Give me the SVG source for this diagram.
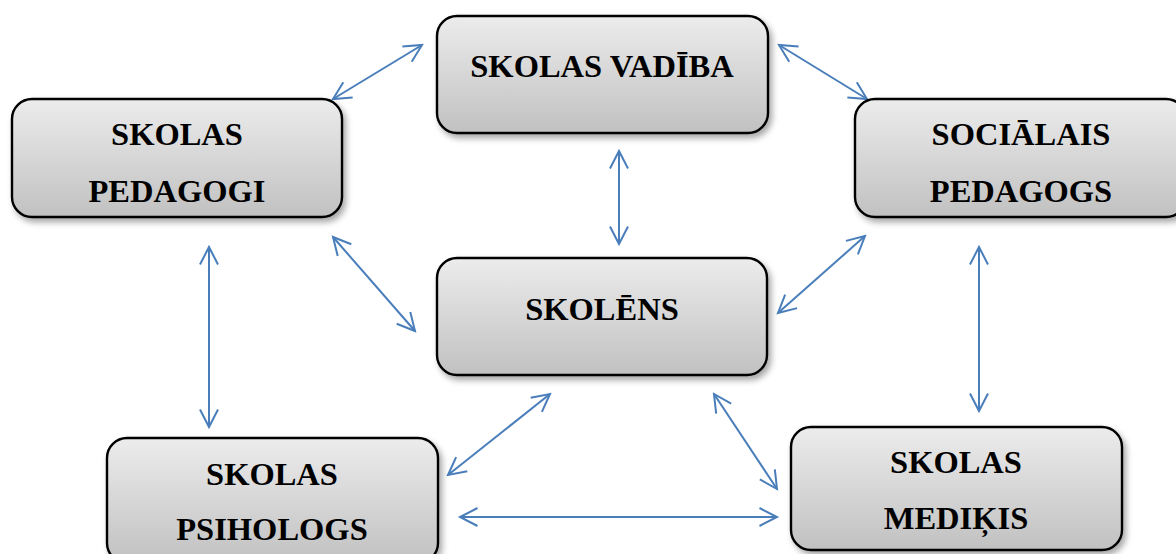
<svg xmlns="http://www.w3.org/2000/svg" width="1176" height="554" viewBox="0 0 1176 554">
<style>
.box{fill:url(#g);stroke:#000;stroke-width:2.4;filter:url(#sh);}
.t{font-family:"Liberation Serif","Times New Roman",serif;font-weight:bold;font-size:32.5px;fill:#000;text-anchor:middle;}
.c{stroke:#4a7ebb;stroke-width:2;fill:none;marker-start:url(#a);marker-end:url(#a);}
</style>
<defs>
<linearGradient id="g" x1="0" y1="0" x2="0" y2="1">
<stop offset="0" stop-color="#ececec"/>
<stop offset="1" stop-color="#c1c1c1"/>
</linearGradient>
<filter id="sh" x="-10%" y="-10%" width="125%" height="135%">
<feDropShadow dx="3" dy="4" stdDeviation="3" flood-color="#000" flood-opacity="0.35"/>
</filter>
<marker id="a" markerUnits="userSpaceOnUse" markerWidth="24" markerHeight="24" refX="18" refY="10" orient="auto-start-reverse" overflow="visible">
<path d="M0.5,1 L18,10 L0.5,19" fill="none" stroke="#4a7ebb" stroke-width="2"/>
</marker>
</defs>
<g id="connectors">
<line class="c" x1="333" y1="99" x2="422" y2="45"/>
<line class="c" x1="779" y1="45" x2="867" y2="99"/>
<line class="c" x1="619" y1="151" x2="619" y2="244"/>
<line class="c" x1="333" y1="237" x2="415" y2="331"/>
<line class="c" x1="865" y1="236" x2="778" y2="313"/>
<line class="c" x1="209" y1="247" x2="209" y2="427"/>
<line class="c" x1="979" y1="247" x2="979" y2="411"/>
<line class="c" x1="550" y1="394" x2="448" y2="475"/>
<line class="c" x1="714" y1="394" x2="777" y2="489"/>
<line class="c" x1="460" y1="517" x2="777" y2="517"/>
</g>
<g id="node-vadiba">
<rect class="box" x="437" y="16" width="331" height="117" rx="20"/>
<text class="t" x="602" y="77">SKOLAS VADĪBA</text>
</g>
<g id="node-pedagogi">
<rect class="box" x="12" y="99" width="330" height="118" rx="20"/>
<text class="t" x="177" y="145">SKOLAS</text>
<text class="t" x="177" y="202">PEDAGOGI</text>
</g>
<g id="node-socialais">
<rect class="box" x="855" y="99" width="331" height="118" rx="20"/>
<text class="t" x="1021" y="145">SOCIĀLAIS</text>
<text class="t" x="1021" y="202">PEDAGOGS</text>
</g>
<g id="node-skolens">
<rect class="box" x="437" y="258" width="330" height="117" rx="20"/>
<text class="t" x="602" y="320">SKOLĒNS</text>
</g>
<g id="node-psihologs">
<rect class="box" x="107" y="438" width="331" height="125" rx="20"/>
<text class="t" x="272" y="485">SKOLAS</text>
<text class="t" x="272" y="540">PSIHOLOGS</text>
</g>
<g id="node-medikis">
<rect class="box" x="791" y="427" width="331" height="123" rx="20"/>
<text class="t" x="956" y="473">SKOLAS</text>
<text class="t" x="956" y="529">MEDIĶIS</text>
</g>
</svg>
